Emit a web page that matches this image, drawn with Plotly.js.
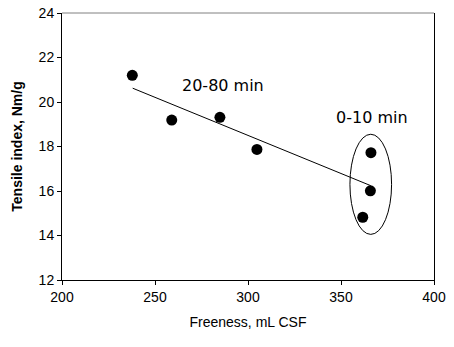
<!DOCTYPE html>
<html>
<head>
<meta charset="utf-8">
<script src="https://cdn.plot.ly/plotly-3.0.1.min.js"></script>
<style>html,body{margin:0;padding:0;background:#fff;}#chart{width:454px;height:347px;}</style>
</head>
<body>
<div id="chart"></div>
<script>
var freeness = [237.8, 259, 284.9, 304.8, 366.1, 365.8, 361.7];
var tensile = [21.2, 19.19, 19.31, 17.87, 17.72, 16.01, 14.82];
var trendX = [238, 366];
var trendY = [20.62, 16.24];
var xTicks = [200, 250, 300, 350, 400];
var yTicks = [12, 14, 16, 18, 20, 22, 24];
var labelLong = "20-80 min";
var labelShort = "0-10 min";

var traces = [
  {x: trendX, y: trendY, mode: 'lines', type: 'scatter', line: {color: '#000', width: 1}, hoverinfo: 'skip'},
  {x: freeness, y: tensile, mode: 'markers', type: 'scatter', marker: {color: '#000', size: 11}}
];

var layout = {
  width: 454, height: 347,
  margin: {l: 62, r: 20, t: 13, b: 67},
  paper_bgcolor: '#fff', plot_bgcolor: '#fff',
  showlegend: false,
  font: {family: 'Liberation Sans, Arial, sans-serif', size: 14, color: '#000'},
  xaxis: {
    range: [200, 400], tickvals: xTicks, ticktext: xTicks.map(String),
    showgrid: false, zeroline: false, showline: true, linecolor: '#000', linewidth: 1,
    ticks: 'outside', ticklen: 4, tickcolor: '#000',
    title: {text: 'Freeness, mL CSF', font: {size: 14}, standoff: 13}
  },
  yaxis: {
    range: [12, 24], tickvals: yTicks, ticktext: yTicks.map(String),
    showgrid: false, zeroline: false, showline: true, linecolor: '#000', linewidth: 1, mirror: true,
    ticks: 'outside', ticklen: 4, tickcolor: '#000',
    title: {text: '<b>Tensile index, Nm/g</b>', font: {size: 14}, standoff: 12}
  },
  shapes: [
    {type: 'line', xref: 'paper', yref: 'paper', x0: 0, x1: 1, y0: 1, y1: 1, line: {color: '#808080', width: 1}},
    {type: 'circle', xref: 'x', yref: 'y', x0: 354.8, x1: 377.2, y0: 14.05, y1: 18.55, line: {color: '#000', width: 1}}
  ],
  annotations: [
    {x: 286.8, y: 20.72, xref: 'x', yref: 'y', text: labelLong, showarrow: false, font: {family: 'DejaVu Sans', size: 16, color: '#000'}},
    {x: 366.9, y: 19.29, xref: 'x', yref: 'y', text: labelShort, showarrow: false, font: {family: 'DejaVu Sans', size: 16, color: '#000'}}
  ]
};

Plotly.newPlot('chart', traces, layout, {displayModeBar: false, staticPlot: true});
</script>
</body>
</html>
